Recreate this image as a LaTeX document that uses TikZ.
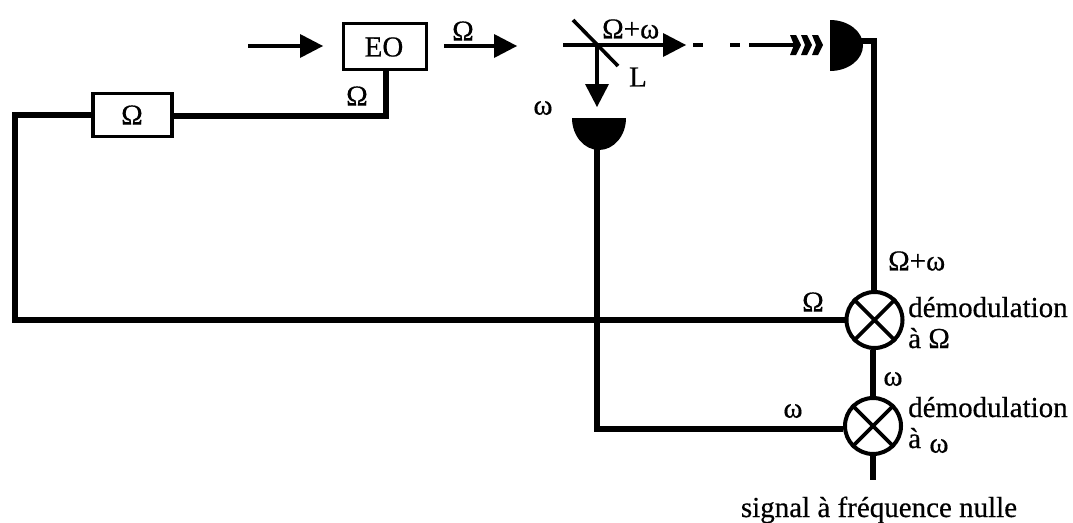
\documentclass[tikz,border=0pt]{standalone}
\usepackage{fontspec}
\setmainfont[FakeBold=0.5]{Liberation Serif}
\usetikzlibrary{arrows.meta,calc}
\tikzset{
  wire/.style={line width=5.6pt,line cap=butt,line join=miter},
  beam/.style={line width=4.4pt,-{Triangle[length=23pt,width=24pt,line width=0pt]}},
  thin beam/.style={line width=4.2pt},
  boxed/.style={draw,line width=3.6pt,fill=white,inner sep=0pt},
  lab/.style={inner sep=0pt,font=\fontsize{29}{33}\selectfont},
  mix/.style={circle,draw,line width=4pt,minimum size=56pt,inner sep=0pt,fill=white}
}
\begin{document}
\begin{tikzpicture}[x=1pt,y=-1pt]
\useasboundingbox (0,0) rectangle (1073,522);
% nodes
\node[boxed,minimum width=83pt,minimum height=46pt] (eo) at (385,46.5) {};
\node[lab] at (384,47) {EO};
\node[boxed,minimum width=79pt,minimum height=43pt] (om) at (132.5,115) {};
\node[lab] at (132,115) {Ω};
\node[mix] (m1) at (874.5,320) {};
\node[mix] (m2) at (873,426) {};
\coordinate (d1) at (597,148);
\coordinate (d2) at (860,41);
\coordinate (in1) at (248,46);
\coordinate (in2) at (323,46);
\coordinate (o1) at (444,46);
\coordinate (o2) at (517,46);
\coordinate (b1) at (563,45);
\coordinate (b2) at (686,45);
\coordinate (bs) at (597,45);
\coordinate (be) at (597,107);
\coordinate (end) at (873,480);
\coordinate (r1) at (874,41);
\coordinate (l1) at (15,320);
\coordinate (l2) at (15,115);
\coordinate (eoc) at (386,116);
\coordinate (c2) at (597,429);
% wires
\draw[wire] (eo.south -| eoc) -- (eoc) -- (om.east |- eoc);
\draw[wire] (om.west) -- (l2) -- (l1) -- (m1.west);
\draw[wire] (d1) -- (c2) -- (m2.west |- c2);
\draw[wire] (d2) -- (r1) -- (m1.north -| r1);
\draw[wire] (m1.south -| m2) -- (m2.north);
\draw[wire] (m2.south) -- (end);
% mixer crosses
\foreach \m in {m1,m2}{
  \draw[line width=3.8pt] (\m.45) -- (\m.225) (\m.135) -- (\m.315);
}
% beams
\draw[beam] (in1) -- (in2);
\draw[beam] (o1) -- (o2);
\draw[beam] (b1) -- (b2);
\draw[beam] (bs) -- (be);
\coordinate (mir1) at (573,20);
\coordinate (mir2) at (618,66);
\draw[line width=3.6pt] (mir1) -- (mir2);
% dashes
\coordinate (da) at (693,45); \coordinate (db) at (703,45);
\coordinate (dc) at (730,45); \coordinate (dd) at (740,45);
\coordinate (de) at (749,45); \coordinate (df) at (795,45);
\draw[thin beam] (da) -- (db) (dc) -- (dd) (de) -- (df);
% chevrons
\foreach \x in {790,801,812}{
  \fill (\x,35) -- (\x+6,35) -- (\x+11,45) -- (\x+6,55) -- (\x,55) -- (\x+4,45) -- cycle;
}
% detectors
\fill (572,118) -- (626,118) arc[start angle=0,end angle=-180,x radius=27pt,y radius=32pt] -- cycle;
\fill (830,71) arc[start angle=-90,end angle=90,x radius=33pt,y radius=25.5pt] -- cycle;
% labels
\node[lab] at (463,31) {Ω};
\node[lab] at (357,96) {Ω};
\node[lab,anchor=west] at (602,29) {Ω+ω};
\node[lab] at (638,77) {L};
\node[lab] at (543,108) {ω};
\node[lab,anchor=west] at (888,261) {Ω+ω};
\node[lab] at (813,302) {Ω};
\node[lab,anchor=base west] at (908,317) {démodulation};
\node[lab,anchor=base west] at (908,348) {à Ω};
\node[lab] at (893,379) {ω};
\node[lab] at (793,411) {ω};
\node[lab,anchor=base west] at (908,417) {démodulation};
\node[lab,anchor=base west] at (908,448) {à};
\node[lab] at (939,446) {ω};
\node[lab,anchor=base] at (879,517) {signal à fréquence nulle};
\end{tikzpicture}
\end{document}
